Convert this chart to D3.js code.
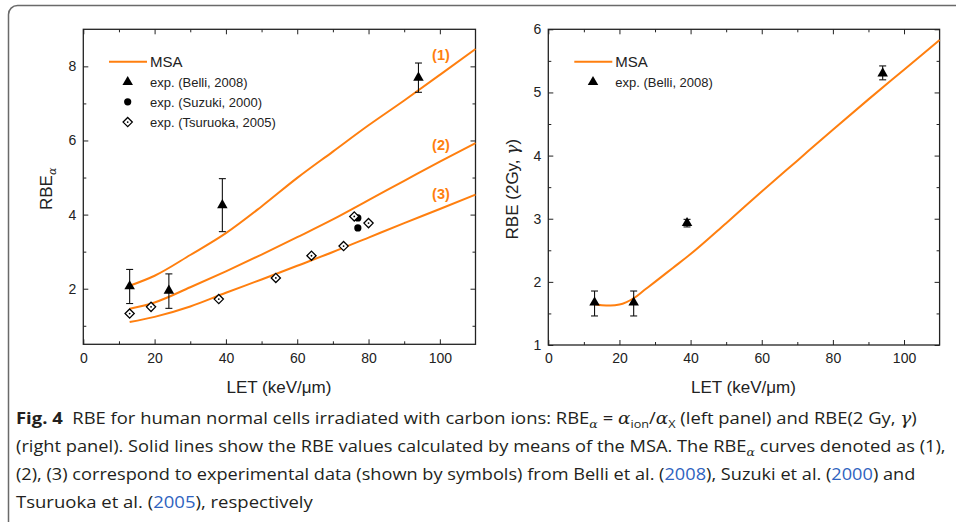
<!DOCTYPE html>
<html>
<head>
<meta charset="utf-8">
<script src="https://cdn.jsdelivr.net/npm/d3@7"></script>
<style>
    body { margin: 0; background: #fff; }
    svg { display: block; font-family: "Liberation Sans", Arial, sans-serif; }
</style>
</head>
<body>
<svg id="fig" width="956" height="522"></svg>
<script>
// ---- data ----
// MSA curves, left panel (RBE_alpha vs LET)
const letGrid = [13, 20, 30, 40, 50, 60, 70, 80, 90, 100, 110];
const msaCurve1 = [2.08, 2.35, 2.91, 3.5, 4.22, 4.99, 5.7, 6.41, 7.08, 7.77, 8.47];
const msaCurve2 = [1.46, 1.63, 2.04, 2.47, 2.92, 3.39, 3.87, 4.39, 4.91, 5.43, 5.93];
const msaCurve3 = [1.10, 1.24, 1.52, 1.89, 2.25, 2.62, 2.99, 3.38, 3.77, 4.15, 4.54];
const curveNames = ['(1)', '(2)', '(3)'];

// MSA curve, right panel (RBE at 2 Gy)
const letGridR = [13, 15, 17.5, 20, 22, 24, 27, 30, 35, 40, 50, 60, 70, 80, 90, 100, 110];
const msaCurveR = [1.645, 1.63, 1.625, 1.64, 1.68, 1.74, 1.87, 2.0, 2.22, 2.44, 2.93, 3.43, 3.92, 4.41, 4.89, 5.36, 5.83];

// experiments
const belliLet = [13, 24, 39, 94];
const belliRbeA = [2.08, 1.96, 4.27, 7.71];
const belliLowA = [1.60, 1.47, 3.54, 7.30];
const belliHighA = [2.52, 2.40, 4.97, 8.09];
const suzukiLet = [77, 77];
const suzukiRbe = [3.91, 3.64];
const tsuruokaLet = [13, 19, 38, 54, 64, 73, 76, 80];
const tsuruokaRbe = [1.33, 1.51, 1.72, 2.29, 2.89, 3.15, 3.95, 3.77];
const belliRbe2 = [1.68, 1.68, 2.94, 5.31];
const belliLow2 = [1.46, 1.46, 2.87, 5.20];
const belliHigh2 = [1.855, 1.855, 2.99, 5.42];

// ticks
const xMajor = [0, 20, 40, 60, 80, 100];
const xMinor = [10, 30, 50, 70, 90];
const yMajorL = [2, 4, 6, 8];
const yMinorL = [1, 3, 5, 7];
const yMajorR = [1, 2, 3, 4, 5, 6];
const yMinorR = [1.5, 2.5, 3.5, 4.5, 5.5];

const ORANGE = '#ff7f0f';
const INK = '#222';

const svg = d3.select('#fig');

// figure frame (rounded box, runs off to the right/bottom)
svg.append('rect')
    .attr('x', 8.5).attr('y', 5.5)
    .attr('width', 1000).attr('height', 530)
    .attr('rx', 9)
    .attr('fill', 'none')
    .attr('stroke', '#6a6a6a')
    .attr('stroke-width', 1.5);

function drawPanel(opt) {
    const x = d3.scaleLinear().domain([0, 110]).range(opt.xRange);
    const y = d3.scaleLinear().domain(opt.yDomain).range(opt.yRange);
    const g = svg.append('g');
    const [x0, x1] = opt.xRange;
    const [yb, yt] = opt.yRange;
    const fmt = d3.format('~g');

    // axes: ticks inward on all four sides
    const addAxis = (axis, tx, ty) => {
        const a = g.append('g').attr('transform', `translate(${tx},${ty})`).call(axis);
        a.select('.domain').remove();
        a.selectAll('line').attr('stroke', INK).attr('stroke-width', 1);
        a.selectAll('text').attr('fill', INK).style('font-size', '14px')
            .style('font-family', '"Liberation Sans", Arial, sans-serif');
        return a;
    };
    addAxis(d3.axisBottom(x).tickValues(xMajor).tickSize(-5).tickPadding(8.5).tickFormat(fmt), 0, yb);
    addAxis(d3.axisBottom(x).tickValues(xMinor).tickSize(-3).tickFormat(''), 0, yb);
    addAxis(d3.axisTop(x).tickValues(xMajor).tickSize(-5).tickFormat(''), 0, yt);
    addAxis(d3.axisTop(x).tickValues(xMinor).tickSize(-3).tickFormat(''), 0, yt);
    addAxis(d3.axisLeft(y).tickValues(opt.yMajor).tickSize(-5).tickPadding(7).tickFormat(fmt), x0, 0);
    addAxis(d3.axisLeft(y).tickValues(opt.yMinor).tickSize(-3).tickFormat(''), x0, 0);
    addAxis(d3.axisRight(y).tickValues(opt.yMajor).tickSize(-5).tickFormat(''), x1, 0);
    addAxis(d3.axisRight(y).tickValues(opt.yMinor).tickSize(-3).tickFormat(''), x1, 0);

    g.append('rect')
        .attr('x', x0).attr('y', yt)
        .attr('width', x1 - x0).attr('height', yb - yt)
        .attr('fill', 'none').attr('stroke', INK).attr('stroke-width', 1.3);

    // axis titles
    g.append('text')
        .attr('x', (x0 + x1) / 2 - 0.5).attr('y', 393)
        .attr('text-anchor', 'middle')
        .style('font-size', '17px').attr('fill', INK)
        .text('LET (keV/μm)');
    const yt0 = g.append('text')
        .attr('transform', `translate(${opt.yTitleX},${(yt + yb) / 2 + 2}) rotate(-90)`)
        .attr('text-anchor', 'middle')
        .style('font-size', '17px').attr('fill', INK);
    opt.yTitle(yt0);

    // curves
    const line = d3.line().curve(d3.curveMonotoneX).x(d => x(d[0])).y(d => y(d[1]));
    opt.curves.forEach(c => {
        g.append('path')
            .datum(c.lets.map((l, i) => [l, c.vals[i]]))
            .attr('d', line)
            .attr('fill', 'none')
            .attr('stroke', ORANGE)
            .attr('stroke-width', 2);
    });
    (opt.curveLabels || []).forEach(lb => {
        g.append('text')
            .attr('x', x(lb.at)).attr('y', y(lb.val))
            .attr('text-anchor', 'middle')
            .style('font-size', '14.5px').style('font-weight', 'bold')
            .attr('fill', ORANGE)
            .text(lb.text);
    });

    // error bars
    opt.errors.forEach(e => {
        e.lets.forEach((l, i) => {
            const cx = x(l);
            g.append('line').attr('x1', cx).attr('x2', cx)
                .attr('y1', y(e.lo[i])).attr('y2', y(e.hi[i]))
                .attr('stroke', '#111').attr('stroke-width', 1.1);
            [e.lo[i], e.hi[i]].forEach(v => {
                g.append('line').attr('x1', cx - 3.5).attr('x2', cx + 3.5)
                    .attr('y1', y(v)).attr('y2', y(v))
                    .attr('stroke', '#111').attr('stroke-width', 1.1);
            });
        });
    });

    // symbols
    opt.points.forEach(p => {
        p.lets.forEach((l, i) => drawMarker(g, p.kind, x(l), y(p.vals[i])));
    });

    // legend
    const lg = g.append('g').attr('transform', `translate(${opt.legendX},0)`);
    lg.append('line').attr('x1', 0).attr('x2', 38).attr('y1', 61.7).attr('y2', 61.7)
        .attr('stroke', ORANGE).attr('stroke-width', 2);
    lg.append('text').attr('x', 41).attr('y', 67).style('font-size', '15px')
        .attr('fill', INK).text('MSA');
    opt.legendItems.forEach((it, i) => {
        const cy = 81.5 + i * 20.3;
        drawMarker(lg, it.kind, 18.7, cy);
        lg.append('text').attr('x', 41).attr('y', cy + 5)
            .style('font-size', '13px').attr('fill', INK).text(it.label);
    });
}

function drawMarker(g, kind, cx, cy) {
    if (kind === 'triangle') {
        g.append('path')
            .attr('d', d3.symbol(d3.symbolTriangle, 48)())
            .attr('transform', `translate(${cx},${cy + 0.5})`)
            .attr('fill', '#000');
    } else if (kind === 'circle') {
        g.append('circle').attr('cx', cx).attr('cy', cy).attr('r', 3.6).attr('fill', '#000');
    } else {
        const r = 4.6;
        g.append('path')
            .attr('d', `M${cx},${cy - r}L${cx + r},${cy}L${cx},${cy + r}L${cx - r},${cy}Z`)
            .attr('fill', '#fff').attr('stroke', '#000').attr('stroke-width', 1.3);
        g.append('circle').attr('cx', cx).attr('cy', cy).attr('r', 0.9).attr('fill', '#000');
    }
}

// left panel
drawPanel({
    xRange: [83.3, 475.5],
    yDomain: [0.5, 9],
    yRange: [344.3, 29.3],
    yMajor: yMajorL,
    yMinor: yMinorL,
    yTitleX: 52,
    yTitle: t => {
        t.append('tspan').text('RBE');
        t.append('tspan').attr('dy', 4).style('font-size', '11px')
            .style('font-family', '"DejaVu Serif", serif').style('font-style', 'italic').text('α');
    },
    curves: [
        { lets: letGrid, vals: msaCurve1 },
        { lets: letGrid, vals: msaCurve2 },
        { lets: letGrid, vals: msaCurve3 }
    ],
    curveLabels: [
        { text: curveNames[0], at: 100.3, val: 8.17 },
        { text: curveNames[1], at: 100.3, val: 5.75 },
        { text: curveNames[2], at: 100.3, val: 4.43 }
    ],
    errors: [{ lets: belliLet, lo: belliLowA, hi: belliHighA }],
    points: [
        { kind: 'triangle', lets: belliLet, vals: belliRbeA },
        { kind: 'circle', lets: suzukiLet, vals: suzukiRbe },
        { kind: 'diamond', lets: tsuruokaLet, vals: tsuruokaRbe }
    ],
    legendX: 109,
    legendItems: [
        { kind: 'triangle', label: 'exp. (Belli, 2008)' },
        { kind: 'circle', label: 'exp. (Suzuki, 2000)' },
        { kind: 'diamond', label: 'exp. (Tsuruoka, 2005)' }
    ]
});

// right panel
drawPanel({
    xRange: [548.3, 939.6],
    yDomain: [1, 6],
    yRange: [345, 29.3],
    yMajor: yMajorR,
    yMinor: yMinorR,
    yTitleX: 518,
    yTitle: t => {
        t.append('tspan').text('RBE (2Gy, ');
        t.append('tspan').style('font-family', '"DejaVu Serif", serif')
            .style('font-style', 'italic').text('γ');
        t.append('tspan').text(')');
    },
    curves: [{ lets: letGridR, vals: msaCurveR }],
    errors: [{ lets: belliLet, lo: belliLow2, hi: belliHigh2 }],
    points: [{ kind: 'triangle', lets: belliLet, vals: belliRbe2 }],
    legendX: 574.3,
    legendItems: [{ kind: 'triangle', label: 'exp. (Belli, 2008)' }]
});

// ---- caption ----
const LINK = '#2f63c0';
const captionLines = [
    { y: 424, right: 917, parts: [
        { t: 'Fig. 4', b: true }, { t: '  RBE for human normal cells irradiated with carbon ions: RBE' },
        { t: 'α', sub: true, m: true }, { t: ' = ' }, { t: 'α', m: true }, { t: 'ion', sub: true },
        { t: '/' }, { t: 'α', m: true }, { t: 'X', sub: true }, { t: ' (left panel) and RBE(2 Gy, ' },
        { t: 'γ', m: true }, { t: ')' }] },
    { y: 452, right: 946, parts: [
        { t: '(right panel). Solid lines show the RBE values calculated by means of the MSA. The RBE' },
        { t: 'α', sub: true, m: true }, { t: ' curves denoted as (1),' }] },
    { y: 480, right: 916, parts: [
        { t: '(2), (3) correspond to experimental data (shown by symbols) from Belli et al. (' },
        { t: '2008', link: true }, { t: '), Suzuki et al. (' }, { t: '2000', link: true }, { t: ') and' }] },
    { y: 508, right: 313, parts: [
        { t: 'Tsuruoka et al. (' }, { t: '2005', link: true }, { t: '), respectively' }] }
];

captionLines.forEach(ln => {
    const g = svg.append('g');
    const t = g.append('text').attr('x', 0).attr('y', 0)
        .style('font-family', '"Open Sans", "Noto Sans", sans-serif')
        .style('font-size', '16px').attr('fill', '#231f20')
        .attr('xml:space', 'preserve');
    let shifted = false;
    ln.parts.forEach(p => {
        const s = t.append('tspan').text(p.t);
        if (p.b) s.style('font-weight', 'bold');
        if (p.link) s.attr('fill', LINK);
        if (p.m) s.style('font-family', '"DejaVu Serif", serif').style('font-style', 'italic');
        if (p.sub) {
            s.style('font-size', '11px');
            if (!shifted) { s.attr('dy', 3.5); shifted = true; }
        } else if (shifted) {
            s.attr('dy', -3.5); shifted = false;
        }
    });
    const w = t.node().getComputedTextLength();
    const sx = (ln.right - 16) / w;
    g.attr('transform', `translate(16,${ln.y}) scale(${sx},1)`);
});
</script>
</body>
</html>
